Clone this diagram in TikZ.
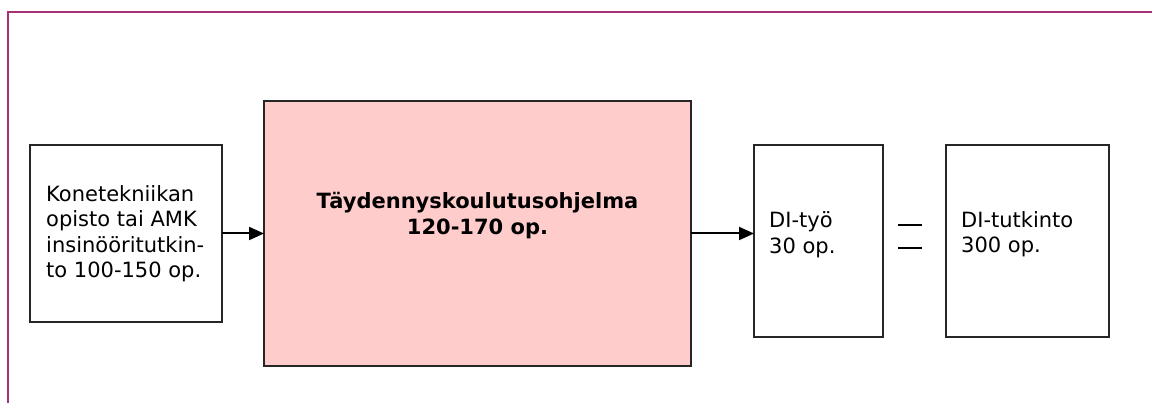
\documentclass[tikz,border=0pt]{standalone}
\usepackage{fontspec}
\setmainfont{DejaVu Sans}
\usetikzlibrary{arrows.meta}
\definecolor{framecol}{RGB}{165,50,115}
\definecolor{pinkfill}{RGB}{255,204,204}
\begin{document}
\begin{tikzpicture}[x=1pt,y=-1pt,
  box/.style={draw=black!85,line width=2pt,anchor=north west,inner sep=0pt,outer sep=0pt},
  txt/.style={inner sep=0pt,anchor=north west,align=left,font=\fontsize{21}{25.5}\selectfont},
  link/.style={line width=2pt,-{Triangle[length=15pt,width=13pt]}},
  eqline/.style={line width=2.2pt}]
\useasboundingbox (0,0) rectangle (1152,403);
\draw[framecol,line width=2.2pt] (8,403) -- (8,12) -- (1152,12);
\node[box,minimum width=192pt,minimum height=177pt] (a) at (30,145) {};
\node[box,fill=pinkfill,minimum width=427pt,minimum height=265pt] (b) at (264,101) {};
\node[box,minimum width=129pt,minimum height=192pt] (c) at (754,145) {};
\node[box,minimum width=163pt,minimum height=192pt] (d) at (946,145) {};
\node[txt] (ta) at (46,185) {Konetekniikan\\opisto tai AMK\\insinööritutkin-\\to 100-150 op.};
\node[txt,anchor=north,align=center,font=\fontsize{21}{26}\selectfont\bfseries] (tb) at (477.5,192) {Täydennyskoulutusohjelma\\120-170 op.};
\node[txt] (tc) at (769,211.5) {DI-työ\\30 op.};
\node[txt] (td) at (961,211) {DI-tutkinto\\300 op.};
\draw[link] (a.east) -- (b.west);
\draw[link] (b.east) -- (b.east -| c.west);
\coordinate (e1a) at (898,225);
\coordinate (e1b) at (922,225);
\coordinate (e2a) at (898,248);
\coordinate (e2b) at (922,248);
\draw[eqline] (e1a) -- (e1b);
\draw[eqline] (e2a) -- (e2b);
\end{tikzpicture}
\end{document}
